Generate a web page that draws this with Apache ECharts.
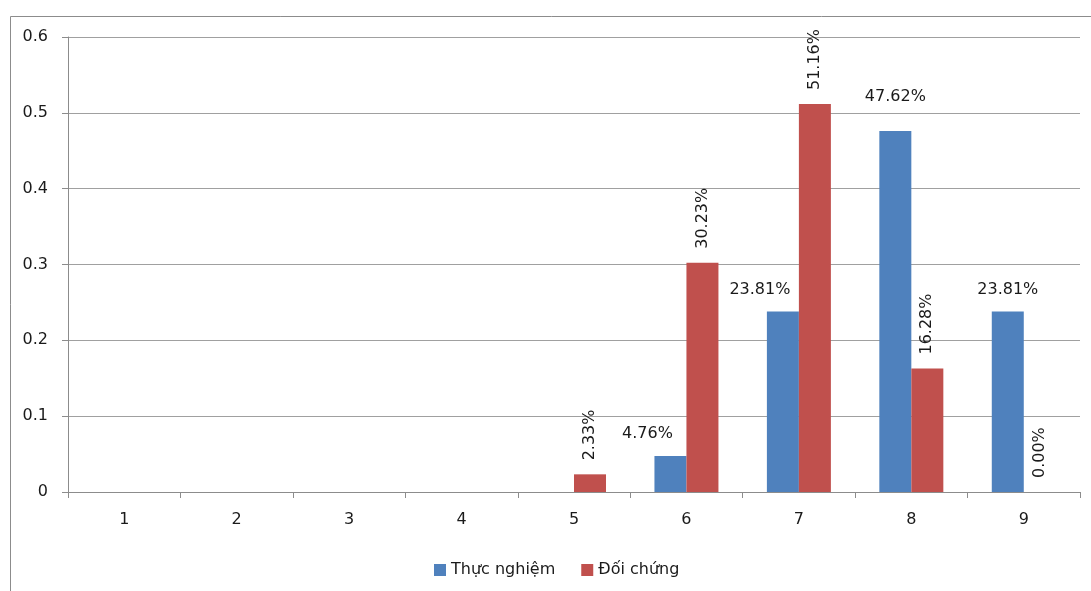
<!DOCTYPE html>
<html>
<head>
<meta charset="utf-8">
<script src="https://cdn.jsdelivr.net/npm/echarts@6/dist/echarts.min.js"></script>
<style>
  html, body { margin: 0; padding: 0; background: #fff; }
  #chart { width: 1091px; height: 591px; }
</style>
</head>
<body>
<div id="chart"></div>
<script>
// Score distribution (proportion of students per score)
const categories = ['1', '2', '3', '4', '5', '6', '7', '8', '9'];
const seriesNames = ['Thực nghiệm', 'Đối chứng'];
const experimental = [0, 0, 0, 0, 0, 0.0476, 0.2381, 0.4762, 0.2381];
const control = [0, 0, 0, 0, 0.0233, 0.3023, 0.5116, 0.1628, 0];
// scores whose bars carry a value label
const experimentalLabeled = ['6', '7', '8', '9'];
const controlLabeled = ['5', '6', '7', '8', '9'];
const yTicks = [0, 0.1, 0.2, 0.3, 0.4, 0.5, 0.6];

const FONT = 'DejaVu Sans';
const TEXT = '#1a1a1a';
const pct = v => (v * 100).toFixed(2) + '%';

// Horizontal labels over the blue bars: nudged left when the neighbouring red bar
// is taller, and lifted clear of the 0.5 gridline on score 8
const blueLift = { '8': -12 };
const blueData = experimental.map((v, i) => {
  const show = experimentalLabeled.includes(categories[i]);
  return {
    value: v,
    label: {
      show: show,
      offset: [control[i] > v ? -23 : 0, blueLift[categories[i]] || 0]
    }
  };
});

// Vertical labels over the red bars
const redData = control.map((v, i) => ({
  value: v,
  label: { show: controlLabeled.includes(categories[i]) }
}));

const chart = echarts.init(document.getElementById('chart'), null, { renderer: 'canvas' });

chart.setOption({
  animation: false,
  backgroundColor: '#ffffff',
  textStyle: { fontFamily: FONT },
  graphic: [{
    type: 'rect',
    left: 8, top: 14,
    shape: { width: 1200, height: 700 },
    style: { fill: 'none', stroke: '#8c8c8c', lineWidth: 1 },
    silent: true
  }],
  grid: { left: 68, right: 11, top: 37, bottom: 99 },
  legend: {
    data: seriesNames,
    left: 429,
    top: 557,
    icon: 'rect',
    itemWidth: 12,
    itemHeight: 12,
    itemGap: 26,
    textStyle: { fontFamily: FONT, fontSize: 16, color: TEXT }
  },
  xAxis: {
    type: 'category',
    data: categories,
    boundaryGap: true,
    axisLine: { lineStyle: { color: '#8c8c8c', width: 1 } },
    axisTick: { show: true, alignWithLabel: false, length: 6, lineStyle: { color: '#8c8c8c' } },
    axisLabel: { fontFamily: FONT, fontSize: 16, color: TEXT, margin: 20 }
  },
  yAxis: {
    type: 'value',
    min: yTicks[0],
    max: yTicks[yTicks.length - 1],
    interval: 0.1,
    axisLine: { show: true, lineStyle: { color: '#8c8c8c', width: 1 } },
    axisTick: { show: true, length: 6, lineStyle: { color: '#8c8c8c' } },
    axisLabel: {
      fontFamily: FONT, fontSize: 16, color: TEXT, margin: 20,
      formatter: v => String(+v.toFixed(1))
    },
    splitLine: { show: true, lineStyle: { color: '#a0a0a0', width: 1 } }
  },
  series: [
    {
      name: seriesNames[0],
      type: 'bar',
      data: blueData,
      barWidth: 32,
      barGap: '0%',
      itemStyle: { color: '#4F81BD' },
      label: {
        position: 'top',
        distance: 14,
        fontFamily: FONT,
        fontSize: 16,
        color: TEXT,
        formatter: p => pct(p.value)
      }
    },
    {
      name: seriesNames[1],
      type: 'bar',
      data: redData,
      barWidth: 32,
      barGap: '0%',
      itemStyle: { color: '#C0504D' },
      label: {
        position: 'top',
        distance: 14,
        rotate: 90,
        align: 'left',
        verticalAlign: 'middle',
        fontFamily: FONT,
        fontSize: 16,
        color: TEXT,
        formatter: p => pct(p.value)
      }
    }
  ]
});
</script>
</body>
</html>
